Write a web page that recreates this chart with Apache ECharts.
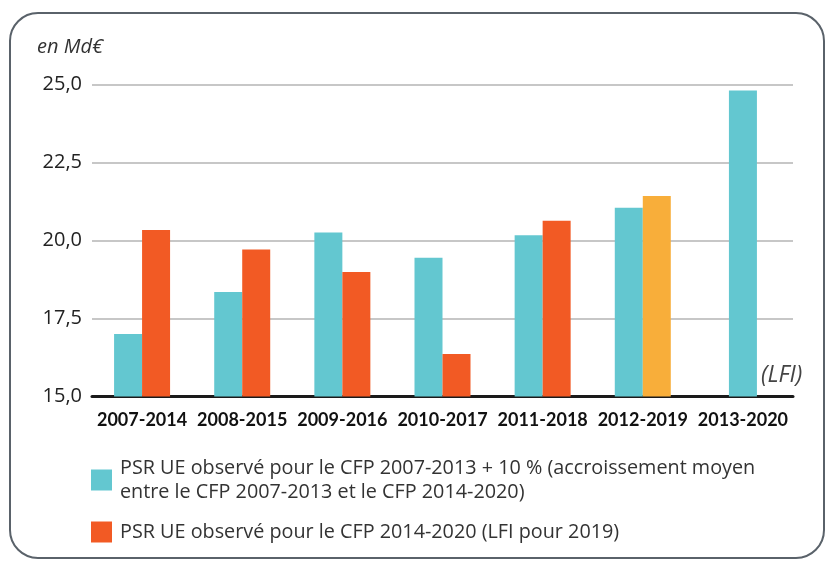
<!DOCTYPE html>
<html><head><meta charset="utf-8">
<script src="https://cdn.jsdelivr.net/npm/echarts@6/dist/echarts.min.js"></script>
<style>html,body{margin:0;padding:0;background:#fff}#c{width:826px;height:562px}</style>
</head><body><div id="c"></div>
<script>
const categories = ['2007-2014','2008-2015','2009-2016','2010-2017','2011-2018','2012-2019','2013-2020'];
const seriesNames = ['PSR UE observé pour le CFP 2007-2013 + 10 % (accroissement moyen\nentre le CFP 2007-2013 et le CFP 2014-2020)',
                     'PSR UE observé pour le CFP 2014-2020 (LFI pour 2019)'];
const observedPlus10 = [17.0, 18.35, 20.26, 19.45, 20.17, 21.05, 24.81];
const observed2014 = [20.34, 19.71, 18.99, 16.36, 20.63, 21.43, null];
const lfiIndex = 5; // 2012-2019 value is LFI (yellow)
const yTicks = [15, 17.5, 20, 22.5, 25];

const teal = '#63C7D0', orange = '#F25A24', yellow = '#F8AE3A';
const chart = echarts.init(document.getElementById('c'));
const pairedTeal = observedPlus10.map((v,i)=> observed2014[i]==null ? null : v);
const singleTeal = observedPlus10.map((v,i)=> observed2014[i]==null ? v : null);
const orangeData = observed2014.map((v,i)=> i===lfiIndex ? {value:v,itemStyle:{color:yellow}} : v);

chart.setOption({
  animation:false,
  textStyle:{fontFamily:'Open Sans'},
  graphic:[
    {type:'rect',shape:{x:10,y:13,width:814,height:545,r:28},style:{fill:'none',stroke:'#5a626a',lineWidth:2},z:-1},
    {type:'text',left:37,top:37,style:{text:'en Md€',font:'italic 20px "Open Sans"',fill:'#333'}},
    {type:'text',left:761,top:364,style:{text:'(LFI)',font:'italic 23px "Open Sans"',fill:'#444'}}
  ],
  grid:{left:92,right:33,top:84.5,bottom:165.5},
  legend:{
    orient:'vertical',left:86,top:451,itemWidth:21,itemHeight:21,itemGap:16,
    icon:'rect',data:seriesNames,
    textStyle:{fontFamily:'Open Sans',fontSize:19.8,color:'#333',lineHeight:24,padding:[0,0,0,3]}
  },
  xAxis:[
    {type:'category',data:categories,
     axisLine:{lineStyle:{color:'#1a1a1a',width:3}},axisTick:{show:false},
     axisLabel:{fontFamily:'Lato',fontWeight:'bold',fontSize:18,color:'#111',margin:15,interval:0}},
    {type:'category',data:categories,show:false}
  ],
  yAxis:{type:'value',min:yTicks[0],max:yTicks[yTicks.length-1],interval:2.5,
    axisLine:{show:false},axisTick:{show:false},
    splitLine:{lineStyle:{color:'#b4b4b4',width:1.5}},
    axisLabel:{fontFamily:'Open Sans',fontSize:20,color:'#222',margin:10,
      formatter:v=>v.toFixed(1).replace('.',',')}},
  series:[
    {name:seriesNames[0],type:'bar',data:pairedTeal,barWidth:28,barGap:'0%',itemStyle:{color:teal}},
    {name:seriesNames[1],type:'bar',data:orangeData,barWidth:28,barGap:'0%',itemStyle:{color:orange}},
    {name:seriesNames[0],type:'bar',xAxisIndex:1,data:singleTeal,barWidth:28,itemStyle:{color:teal}}
  ]
});
</script></body></html>
